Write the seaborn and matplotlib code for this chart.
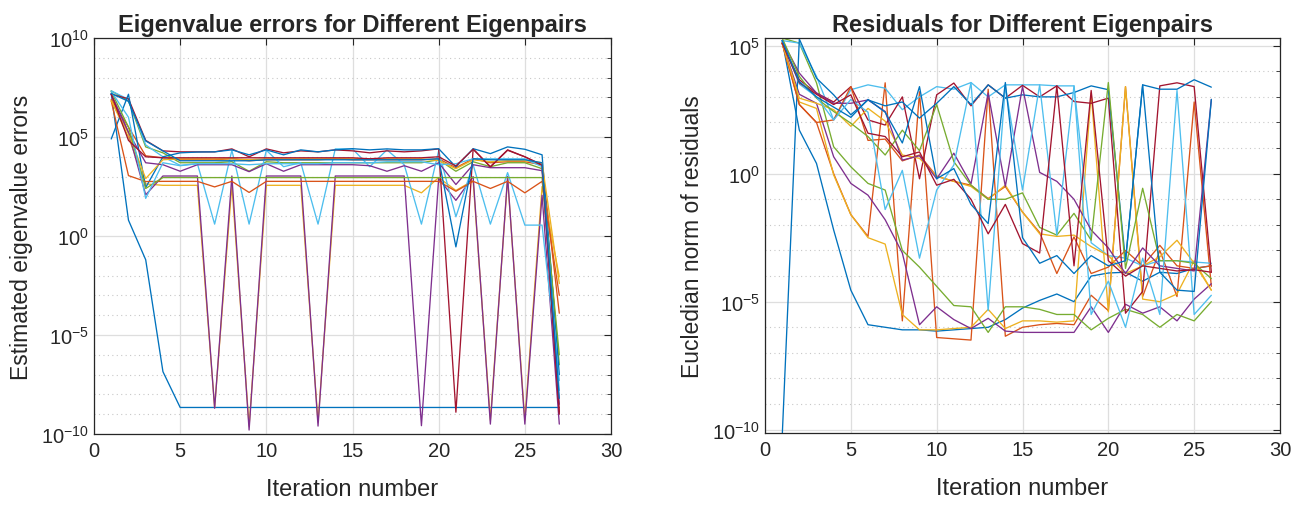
import numpy as np
import pandas as pd
import matplotlib
matplotlib.use("Agg")
import matplotlib.pyplot as plt
import matplotlib.ticker as mticker
import seaborn as sns

sns.set_style("white")
plt.rcParams["font.family"] = ["Liberation Sans", "DejaVu Sans"]
plt.rcParams["mathtext.fontset"] = "custom"
plt.rcParams["mathtext.rm"] = "Liberation Sans"
plt.rcParams["mathtext.it"] = "Liberation Sans:italic"
plt.rcParams["mathtext.bf"] = "Liberation Sans:bold"

# log10 of the estimated eigenvalue error per iteration (iterations 1..27)
eig_err_01 = [7.20, 0.80, -1.20, -6.85, -8.66, -8.66, -8.66, -8.66, -8.66,
              -8.66, -8.66, -8.66, -8.66, -8.66, -8.66, -8.66, -8.66, -8.66,
              -8.66, -8.66, -8.66, -8.66, -8.66, -8.66, -8.66, -8.66, -8.66]
eig_err_02 = [6.90, 5.50, 4.05, 3.95, 3.85, 3.85, 3.85, 3.90, 3.80,
              3.85, 3.85, 3.85, 3.85, 3.90, 3.85, 3.85, 3.85, 3.85,
              3.85, 3.90, 3.45, 3.90, 3.70, 3.75, 3.75, 3.60, -3.90]
eig_err_03 = [6.85, 5.00, 2.63, 2.56, 2.56, 2.56, -8.66, 2.56, -9.60,
              2.56, 2.56, 2.56, -9.40, 2.56, 2.56, 2.56, 2.56, 2.56,
              2.18, 2.95, 2.30, 2.80, -9.30, 2.90, -9.30, 2.50, -2.06]
eig_err_04 = [7.16, 5.23, 2.08, 3.03, 3.03, 3.03, -8.70, 3.03, -9.80,
              3.03, 3.03, 3.03, -9.60, 3.03, 3.03, 3.03, 3.03, 3.03,
              -9.58, 2.90, 1.80, 3.00, -9.50, 3.00, -9.50, 2.06, -9.50]
eig_err_05 = [7.33, 6.82, 4.50, 4.20, 3.70, 3.70, 3.70, 3.75, 3.27,
              3.75, 3.70, 3.70, 3.70, 3.70, 3.70, 3.70, 3.70, 3.70,
              3.70, 3.85, 3.27, 3.75, 3.50, 3.70, 3.70, 3.40, -6.50]
eig_err_06 = [7.33, 6.90, 4.60, 4.00, 3.57, 3.65, 0.60, 4.33, 0.60,
              4.33, 3.50, 3.70, 0.60, 4.40, 4.40, 3.50, 4.35, 3.60,
              0.60, 4.30, 0.97, 3.60, 0.60, 3.20, 0.55, 0.55, -7.30]
eig_err_07 = [7.16, 6.93, 4.83, 4.30, 4.25, 4.25, 4.25, 4.40, 4.00,
              4.40, 4.20, 4.30, 4.25, 4.35, 4.30, 4.20, 4.30, 4.25,
              4.30, 4.40, -8.90, 4.40, 3.50, 4.35, 4.00, 3.60, -8.90]
eig_err_08 = [4.90, 7.16, 2.45, 4.00, 4.20, 4.24, 4.25, 4.35, 4.10,
              4.35, 4.10, 4.35, 4.25, 4.35, 4.41, 4.35, 4.40, 4.35,
              4.35, 4.41, 3.49, 4.41, 4.16, 4.50, 4.38, 4.10, -7.00]
eig_err_09 = [6.82, 3.05, 2.75, 2.76, 2.76, 2.76, 2.48, 2.76, 2.20,
              2.76, 2.76, 2.76, 2.76, 2.76, 2.76, 2.76, 2.76, 2.76,
              2.76, 2.76, 2.26, 2.76, 2.40, 2.76, 2.18, 2.76, -3.00]
eig_err_10 = [6.82, 5.20, 2.90, 3.85, 3.90, 3.90, 3.90, 3.90, 3.85,
              3.90, 3.90, 3.90, 3.90, 3.90, 3.90, 3.90, 3.90, 3.90,
              3.90, 3.80, 3.40, 3.85, 3.75, 3.80, 3.80, 3.70, -2.40]
eig_err_11 = [7.16, 5.23, 3.70, 3.60, 3.27, 3.60, 3.60, 3.60, 3.25,
              3.65, 3.27, 3.60, 3.60, 3.60, 3.60, 3.55, 3.27, 3.55,
              3.27, 3.70, 2.60, 3.60, 3.45, 3.45, 3.45, 3.30, -8.50]
eig_err_12 = [7.30, 5.50, 2.40, 2.95, 2.95, 2.95, 2.95, 2.95, 2.95,
              2.95, 2.95, 2.95, 2.95, 2.95, 2.95, 2.95, 2.95, 2.95,
              2.95, 2.95, 2.95, 2.95, 2.95, 2.95, 2.95, 2.95, -6.00]
eig_err_13 = [7.30, 6.00, 1.90, 3.70, 3.55, 3.65, 3.65, 3.65, 3.60,
              3.65, 3.65, 3.65, 3.65, 3.70, 3.70, 3.70, 3.75, 3.75,
              3.75, 3.60, 3.65, 3.90, 3.90, 3.90, 3.90, 3.50, -7.80]
eig_err_14 = [7.16, 4.83, 4.00, 3.95, 3.95, 3.95, 3.95, 3.95, 3.95,
              3.95, 3.95, 3.95, 3.95, 3.95, 3.95, 3.90, 3.95, 3.95,
              3.95, 4.00, 3.54, 4.38, 3.49, 4.33, 4.00, 3.57, -9.00]
eig_err_15 = [7.20, 6.80, 4.80, 4.30, 3.80, 3.80, 3.80, 3.80, 3.80,
              3.85, 3.85, 3.85, 3.85, 3.85, 3.85, 3.85, 3.85, 3.85,
              3.85, 3.90, -0.55, 3.90, 3.85, 3.85, 3.85, 3.70, -8.20]

# log10 of the Euclidean residual norm per iteration (iterations 1..26)
resid_01 = [5.20, 1.70, 0.40, -2.20, -4.55, -5.90, -6.00, -6.10, -6.10,
            -6.15, -6.10, -6.05, -6.00, -5.70, -5.25, -4.95, -4.70, -5.00,
            -4.00, -3.88, -3.85, -4.20, -3.85, -3.90, -3.70, -3.60]
resid_02 = [5.10, 2.70, 2.00, 0.00, -1.60, -2.45, 3.55, -5.75, 3.20,
            -6.40, -6.45, -6.50, 3.30, -6.35, -6.00, -5.90, -5.85, -5.90,
            -4.75, -5.35, 3.40, -4.80, -3.00, -4.80, 2.80, -4.40]
resid_03 = [5.10, 2.80, 2.55, -0.05, -1.60, -2.50, -2.75, -5.50, -6.10,
            -6.10, -6.05, -6.00, -5.30, -6.05, -5.75, -5.75, -5.80, -5.75,
            3.15, -5.40, 3.40, -4.90, -5.00, -4.70, -3.40, -4.55]
resid_04 = [5.10, 3.10, 2.75, 0.66, -0.38, -0.84, -1.80, -3.10, -5.90,
            -5.20, -5.70, -6.05, -5.65, -6.15, -6.20, -6.20, -6.20, -6.20,
            -5.20, -6.20, -5.10, -5.45, -5.20, -5.75, -4.90, -4.30]
resid_05 = [5.30, 5.10, 3.55, 1.05, 0.27, -0.38, -0.64, -3.00, -3.65,
            -4.40, -5.15, -5.20, -6.20, -5.20, -5.20, -5.30, -5.50, -5.50,
            -6.10, -5.65, -5.30, -5.50, -6.00, -5.50, -5.75, -5.00]
resid_06 = [5.20, 5.10, 3.80, 2.10, 3.28, 3.47, 3.34, 2.50, 3.00,
            3.40, 3.30, 3.56, 3.00, 3.47, 3.47, 3.47, 3.43, 3.43,
            -2.70, -3.20, -3.30, -3.60, -3.40, -3.40, -3.45, -3.50]
resid_07 = [5.10, 3.67, 3.15, 2.80, 3.40, 2.10, 1.90, 3.00, -0.20,
            3.08, 3.54, 2.65, 3.47, 2.95, 3.45, 3.00, 3.43, 2.82,
            2.75, 2.95, -5.45, -4.60, 3.43, 3.55, 3.40, -3.85]
resid_08 = [-10.30, 5.26, 3.73, 3.08, 2.30, 2.88, 2.65, 2.80, 2.17,
            2.75, 3.40, 2.70, 3.47, 2.95, 3.08, 3.00, 3.00, 3.17,
            3.43, 3.28, -3.40, 3.47, 3.30, 3.30, 3.67, 3.38]
resid_09 = [5.10, 2.70, 2.00, 2.10, 3.40, 1.30, 1.35, 0.50, 0.73,
            -0.10, -0.30, -0.45, -0.97, -0.50, -1.50, -2.30, -3.90, -2.47,
            -3.90, -3.65, -3.00, -3.60, -2.80, -3.60, -3.70, -3.60]
resid_10 = [5.10, 2.95, 2.75, 2.50, 1.85, 2.55, 2.05, 0.73, 0.60,
            -0.10, -0.30, -0.50, -1.00, -0.45, -1.50, -2.35, -2.45, -2.40,
            -2.85, -3.20, -3.90, -3.60, -3.25, -2.60, -3.50, -4.55]
resid_11 = [5.20, 3.93, 3.15, 2.75, 2.75, 2.88, 2.43, 0.53, 0.70,
            -0.20, 0.80, -0.40, 3.15, -0.50, 3.40, 0.05, -0.30, -1.00,
            -2.20, -2.90, -3.90, -2.90, -3.60, -3.70, -3.80, 2.90]
resid_12 = [5.30, 3.80, 2.95, 2.43, 1.97, 1.45, 0.73, 1.70, 0.90,
            2.70, 0.47, -0.45, -1.00, -1.00, -0.75, -2.10, -2.40, -1.55,
            -2.60, 3.56, -3.70, -0.57, -3.40, -3.40, -3.50, -4.10]
resid_13 = [5.20, 3.50, 3.00, 2.10, 2.90, 2.40, -1.40, 0.13, -3.30,
            -0.64, 0.34, 3.56, -5.35, 3.40, -0.64, 3.47, -2.40, 3.43,
            -5.50, -4.20, -6.00, -3.30, -5.50, 3.25, -5.50, -4.75]
resid_14 = [5.10, 3.55, 3.10, 2.70, 3.08, 1.58, 1.45, 0.66, 0.85,
            -0.45, -0.22, -1.00, -2.35, -1.20, -2.73, -3.10, 3.43, -3.60,
            3.25, -3.40, -4.00, -3.60, -3.70, -3.80, -3.75, -3.85]
resid_15 = [5.20, 3.60, 3.00, 2.60, 2.20, 2.90, 2.40, 1.20, 3.40,
            -0.20, 0.20, -1.20, -1.95, 3.56, -2.50, -3.50, -3.20, -3.90,
            -3.20, -3.60, -3.40, 3.47, -3.85, -4.55, -4.60, 2.90]

eig_series = [eig_err_01, eig_err_02, eig_err_03, eig_err_04, eig_err_05,
              eig_err_06, eig_err_07, eig_err_08, eig_err_09, eig_err_10,
              eig_err_11, eig_err_12, eig_err_13, eig_err_14, eig_err_15]
res_series = [resid_01, resid_02, resid_03, resid_04, resid_05,
              resid_06, resid_07, resid_08, resid_09, resid_10,
              resid_11, resid_12, resid_13, resid_14, resid_15]

matlab_colors = ["#0072BD", "#D95319", "#EDB120", "#7E2F8E",
                 "#77AC30", "#4DBEEE", "#A2142F"]


def long_form(series_list):
    rows = []
    for k, s in enumerate(series_list):
        for i, v in enumerate(s):
            rows.append({"iteration": i + 1, "value": 10.0 ** v, "pair": k})
    return pd.DataFrame(rows)


def style_axes(ax, ylim, major_exps, minor_exps):
    ax.set_yscale("log")
    ax.set_xlim(0, 30)
    ax.set_ylim(*ylim)
    ax.xaxis.set_major_locator(mticker.MultipleLocator(5))
    ax.yaxis.set_major_locator(mticker.FixedLocator([10.0 ** e for e in major_exps]))
    ax.yaxis.set_minor_locator(mticker.FixedLocator([10.0 ** e for e in minor_exps]))
    ax.yaxis.set_major_formatter(mticker.LogFormatterSciNotation())
    ax.yaxis.set_minor_formatter(mticker.NullFormatter())
    ax.grid(True, which="major", color="#dedede", linewidth=0.9, linestyle="-")
    ax.grid(True, which="minor", axis="y", color="#c8c8c8", linewidth=0.8,
            linestyle=(0, (1, 3)))
    ax.set_axisbelow(True)
    for sp in ax.spines.values():
        sp.set_color("#262626")
        sp.set_linewidth(0.9)
        sp.set_visible(True)
    ax.tick_params(which="both", direction="in", top=True, right=True,
                   colors="#262626", labelsize=14.5, labelcolor="#262626")
    ax.tick_params(which="major", length=5, width=0.8)
    ax.tick_params(which="minor", length=3, width=0.6)
    ax.tick_params(axis="x", which="major", pad=5)


fig = plt.figure(figsize=(13.07, 5.06), dpi=100)
ax1 = fig.add_axes([94 / 1307, 1 - 435 / 506, 517 / 1307, 396 / 506])
ax2 = fig.add_axes([765 / 1307, 1 - 434 / 506, 515 / 1307, 395 / 506])

palette = [matlab_colors[k % 7] for k in range(len(eig_series))]

df_eig = long_form(eig_series)
df_res = long_form(res_series)

style_axes(ax1, (1e-10, 1e10), [-10, -5, 0, 5, 10], list(range(-10, 11)))
sns.lineplot(data=df_eig, x="iteration", y="value", hue="pair",
             palette=palette, estimator=None, sort=False, legend=False,
             linewidth=0.95, ax=ax1)

style_axes(ax2, (10 ** -10.13, 10 ** 5.3), [-10, -5, 0, 5], list(range(-10, 6)))
sns.lineplot(data=df_res, x="iteration", y="value", hue="pair",
             palette=palette, estimator=None, sort=False, legend=False,
             linewidth=0.95, ax=ax2)

for ax in (ax1, ax2):
    ax.set_xlim(0, 30)
    ax.set_xlabel("Iteration number", fontsize=17, color="#262626", labelpad=13)

ax1.set_ylim(1e-10, 1e10)
ax2.set_ylim(10 ** -10.13, 10 ** 5.3)

ax1.set_ylabel("Estimated eigenvalue errors", fontsize=16.5, color="#262626",
               labelpad=6)
ax2.set_ylabel("Eucledian norm of residuals", fontsize=16.5, color="#262626",
               labelpad=6)
ax1.set_title("Eigenvalue errors for Different Eigenpairs", fontsize=17,
              fontweight="bold", pad=5)
ax2.set_title("Residuals for Different Eigenpairs", fontsize=17,
              fontweight="bold", pad=5)

fig.savefig("out.png", dpi=100)
